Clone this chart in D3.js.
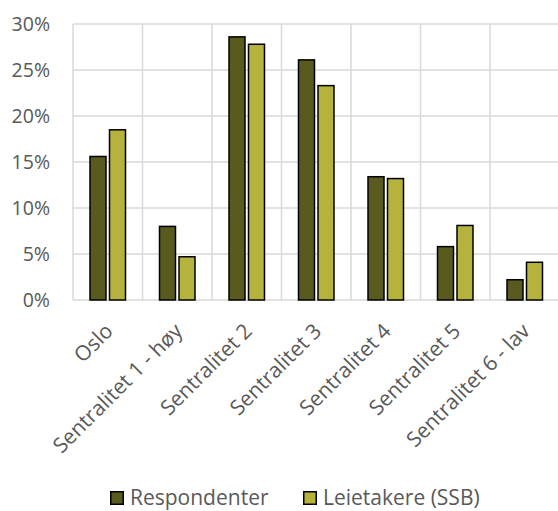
<!DOCTYPE html>
<html><head><meta charset="utf-8">
<script src="https://cdn.jsdelivr.net/npm/d3@7"></script>
<style>body{margin:0;background:#fff;} svg{display:block;}</style>
</head><body>
<svg id="c" width="558" height="511"></svg>
<script>
const categories = ["Oslo","Sentralitet 1 - høy","Sentralitet 2","Sentralitet 3","Sentralitet 4","Sentralitet 5","Sentralitet 6 - lav"];
const seriesNames = ["Respondenter","Leietakere (SSB)"];
const respondenter = [15.6, 8.0, 28.6, 26.1, 13.4, 5.8, 2.2];
const leietakere = [18.5, 4.7, 27.8, 23.3, 13.2, 8.1, 4.1];
const yTicks = [0, 5, 10, 15, 20, 25, 30];
const colors = ["#5b5a1e", "#b5b33e"];

(function(){
const svg = d3.select("#c");
const font = "'Open Sans', sans-serif";
const pLeft = 73, pRight = 559.5, pTop = 24, pBottom = 300;
const x = d3.scaleBand().domain(categories).range([pLeft, pRight]).paddingInner(0).paddingOuter(0);
const y = d3.scaleLinear().domain([0, 30]).range([pBottom, pTop]);
const x1 = d3.scaleBand().domain(seriesNames).range([0, x.bandwidth()]).paddingInner(0.18).paddingOuter(0.872);

svg.append("g").selectAll("line").data(yTicks).join("line")
  .attr("x1", pLeft).attr("x2", 558).attr("y1", d => y(d)).attr("y2", d => y(d))
  .attr("stroke", "#d9d9d9").attr("stroke-width", 1.5);
svg.append("g").selectAll("line").data(categories).join("line")
  .attr("x1", d => x(d)).attr("x2", d => x(d)).attr("y1", pTop).attr("y2", pBottom)
  .attr("stroke", "#d9d9d9").attr("stroke-width", 1.5);

svg.append("g").selectAll("text").data(yTicks).join("text")
  .attr("x", 50).attr("y", d => y(d)).attr("dy", "0.35em")
  .attr("text-anchor", "end").attr("font-family", font).attr("font-size", 19.5)
  .attr("fill", "#595959").text(d => d + "%");

const data = categories.map((c, i) => ({c, vals: [respondenter[i], leietakere[i]]}));
const g = svg.append("g").selectAll("g").data(data).join("g")
  .attr("transform", d => `translate(${x(d.c)},0)`);
g.selectAll("rect").data(d => d.vals.map((v, j) => ({v, s: seriesNames[j], j}))).join("rect")
  .attr("x", d => x1(d.s)).attr("width", x1.bandwidth())
  .attr("y", d => y(d.v)).attr("height", d => y(0) - y(d.v))
  .attr("fill", d => colors[d.j]).attr("stroke", "#000").attr("stroke-width", 1.5);

svg.append("g").selectAll("text").data(categories).join("text")
  .attr("transform", d => `translate(${x(d) + x.bandwidth()/2 - 4},${pBottom + 22}) rotate(-45)`)
  .attr("text-anchor", "end").attr("dy", "0.7em")
  .attr("font-family", font).attr("font-size", 21).attr("fill", "#595959").text(d => d);

const legX = [110, 303];
const leg = svg.append("g").selectAll("g").data(seriesNames).join("g")
  .attr("transform", (d, i) => `translate(${legX[i]},505)`);
leg.append("rect").attr("x", 0.75).attr("y", -13.25).attr("width", 12.5).attr("height", 12.5)
  .attr("fill", (d, i) => colors[i]).attr("stroke", "#000").attr("stroke-width", 1.5);
leg.append("text").attr("x", 20).attr("y", 0)
  .attr("font-family", font).attr("font-size", 21).attr("fill", "#595959").text(d => d);
})();
</script>
</body></html>
